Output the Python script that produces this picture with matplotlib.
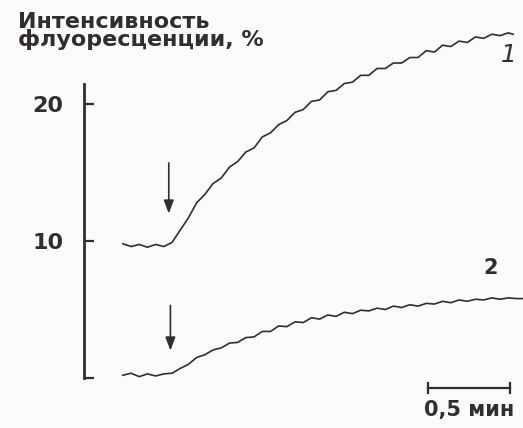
import matplotlib.pyplot as plt

plt.rcParams["font.family"] = "DejaVu Sans"

ink = "#332e2e"

# время, мин (0 = момент добавления)
t1 = [-0.30, -0.25, -0.20, -0.15, -0.10, -0.05, 0.00, 0.05, 0.10, 0.15, 0.20, 0.25,
      0.30, 0.35, 0.40, 0.45, 0.50, 0.55, 0.60, 0.65, 0.70, 0.75, 0.80, 0.85, 0.90,
      0.95, 1.00, 1.05, 1.10, 1.15, 1.20, 1.25, 1.30, 1.35, 1.40, 1.45, 1.50, 1.55,
      1.60, 1.65, 1.70, 1.75, 1.80, 1.85, 1.90, 1.95, 2.00, 2.05, 2.08]
curve1 = [9.8, 9.6, 9.75, 9.55, 9.75, 9.6, 9.9, 10.8, 11.7, 12.8, 13.4, 14.2,
          14.6, 15.4, 15.8, 16.5, 16.8, 17.6, 17.9, 18.5, 18.8, 19.4, 19.6, 20.2, 20.3,
          20.9, 21.0, 21.5, 21.6, 22.1, 22.1, 22.6, 22.6, 23.0, 23.0, 23.4, 23.4, 23.9,
          23.8, 24.3, 24.2, 24.6, 24.5, 24.9, 24.8, 25.1, 25.0, 25.2, 25.1]

t2 = [-0.30, -0.25, -0.20, -0.15, -0.10, -0.05, 0.00, 0.05, 0.10, 0.15, 0.20, 0.25,
      0.30, 0.35, 0.40, 0.45, 0.50, 0.55, 0.60, 0.65, 0.70, 0.75, 0.80, 0.85, 0.90,
      0.95, 1.00, 1.05, 1.10, 1.15, 1.20, 1.25, 1.30, 1.35, 1.40, 1.45, 1.50, 1.55,
      1.60, 1.65, 1.70, 1.75, 1.80, 1.85, 1.90, 1.95, 2.00, 2.05, 2.10, 2.14]
curve2 = [0.2, 0.35, 0.1, 0.3, 0.15, 0.3, 0.35, 0.7, 1.0, 1.5, 1.7, 2.05,
          2.2, 2.55, 2.6, 2.95, 3.0, 3.4, 3.4, 3.8, 3.75, 4.1, 4.05, 4.4, 4.3,
          4.6, 4.5, 4.8, 4.7, 4.95, 4.9, 5.1, 5.0, 5.25, 5.15, 5.35, 5.25, 5.45,
          5.4, 5.6, 5.5, 5.7, 5.6, 5.75, 5.7, 5.85, 5.75, 5.85, 5.8, 5.8]

yticks = [0, 10, 20]
ytick_labels = ["", "10", "20"]

fig = plt.figure(figsize=(5.23, 4.28), dpi=100, facecolor="#fbfbf9")
ax = fig.add_axes([0.1606, 0.1168, 0.8394, 0.832])
ax.set_facecolor("none")
ax.set_xlim(-0.537, 2.14)
ax.set_ylim(0, 26)

ax.plot(t1, curve1, color=ink, lw=1.2)
ax.plot(t2, curve2, color=ink, lw=1.2)

for sp in ["top", "right", "bottom"]:
    ax.spines[sp].set_visible(False)
ax.spines["left"].set_bounds(0, 21.5)
ax.spines["left"].set_linewidth(2.0)
ax.spines["left"].set_color(ink)
ax.set_xticks([])
ax.set_yticks(yticks)
ax.set_yticklabels(ytick_labels, fontsize=16, fontweight="bold", color=ink)
ax.tick_params(axis="y", direction="in", length=7, width=1.6, color=ink, pad=15)

# стрелки - момент добавления
arr = dict(arrowstyle="-|>,head_width=0.3,head_length=0.8", color=ink, lw=1.2,
           mutation_scale=10, shrinkA=0, shrinkB=0)
ax.annotate("", xy=(-0.02, 12.0), xytext=(-0.02, 15.7), arrowprops=arr)
ax.annotate("", xy=(-0.01, 2.0), xytext=(-0.01, 5.3), arrowprops=arr)

ax.text(2.05, 23.6, "1", fontsize=18, style="italic", color=ink, ha="center", va="center")
ax.text(1.94, 8.0, "2", fontsize=15, fontweight="bold", color=ink, ha="center", va="center")

# масштаб 0,5 мин
ax.plot([1.56, 2.06], [-0.73, -0.73], color=ink, lw=1.6, clip_on=False)
ax.plot([1.56, 1.56], [-0.35, -1.1], color=ink, lw=1.6, clip_on=False)
ax.plot([2.06, 2.06], [-0.35, -1.1], color=ink, lw=1.6, clip_on=False)
ax.text(1.81, -2.35, "0,5 мин", fontsize=15, fontweight="bold", color=ink,
        ha="center", va="center", clip_on=False)

fig.text(18 / 523, 1 - 12 / 428, "Интенсивность\nфлуоресценции, %", fontsize=16,
         fontweight="bold", color=ink, ha="left", va="top", linespacing=0.82)

fig.savefig("out.png", dpi=100, facecolor=fig.get_facecolor())
